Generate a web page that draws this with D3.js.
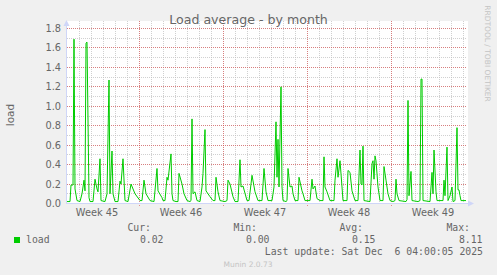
<!DOCTYPE html>
<html>
<head>
<meta charset="utf-8">
<script src="https://cdn.jsdelivr.net/npm/d3@7"></script>
<style>
  html, body { margin: 0; padding: 0; background: #f0f0f0; }
  svg { display: block; font-family: "DejaVu Sans", sans-serif; }
  .mono { font-family: "DejaVu Sans Mono", monospace; }
</style>
</head>
<body>
<div id="chart"></div>
<script>
// load samples: hours after Mon 3 Nov 2025 00:00 UTC, and the load value
var hours = [0, 6, 8, 12, 14, 16, 20, 26, 30, 34, 36, 38, 40, 44, 46, 52, 56, 60, 62, 66,
  68, 76, 80, 84, 86, 90, 92, 96, 102, 106, 108, 112, 116, 122, 128, 136, 146, 150, 154, 158,
  166, 174, 180, 182, 190, 192, 196, 200, 202, 208, 210, 212, 218, 222, 224, 230, 234, 240, 246, 248,
  250, 252, 256, 260, 266, 270, 272, 276, 278, 286, 292, 296, 298, 302, 306, 316, 320, 322, 326, 332,
  336, 342, 346, 348, 352, 360, 364, 368, 370, 376, 382, 390, 394, 398, 402, 410, 414, 418, 420, 422,
  424, 428, 430, 432, 438, 440, 442, 446, 450, 452, 456, 462, 464, 470, 472, 476, 486, 490, 492, 496,
  500, 506, 512, 514, 516, 520, 526, 534, 536, 540, 542, 546, 550, 552, 560, 562, 566, 570, 576, 582,
  586, 588, 590, 592, 594, 606, 610, 612, 614, 616, 618, 622, 626, 632, 634, 638, 642, 646, 652, 656,
  658, 660, 664, 678, 680, 682, 684, 688, 690, 702, 706, 708, 710, 712, 726, 730, 732, 734, 738, 740,
  752, 754, 756, 760, 762, 766, 770, 772, 776, 780, 782, 784, 786, 788, 798];
var load = [0.02, 0.02, 0.19, 0.19, 1.69, 0.15, 0.03, 0.02, 0.10, 0.24, 0.13, 1.65, 1.66, 0.06, 0.02, 0.02, 0.25, 0.15, 0.12, 0.46,
  0.03, 0.02, 0.10, 1.27, 0.10, 0.54, 0.10, 0.02, 0.02, 0.23, 0.20, 0.46, 0.03, 0.02, 0.20, 0.10, 0.03, 0.03, 0.24, 0.10,
  0.03, 0.02, 0.36, 0.13, 0.06, 0.03, 0.03, 0.27, 0.24, 0.51, 0.10, 0.03, 0.02, 0.02, 0.31, 0.20, 0.10, 0.03, 0.02, 0.03,
  0.87, 0.10, 0.12, 0.03, 0.02, 0.17, 0.31, 0.76, 0.13, 0.07, 0.03, 0.03, 0.27, 0.12, 0.03, 0.02, 0.03, 0.24, 0.20, 0.07,
  0.02, 0.02, 0.45, 0.17, 0.18, 0.03, 0.03, 0.20, 0.29, 0.12, 0.03, 0.03, 0.36, 0.12, 0.03, 0.03, 0.17, 0.84, 0.27, 0.66,
  0.17, 1.20, 0.17, 0.03, 0.02, 0.03, 0.36, 0.17, 0.18, 0.10, 0.03, 0.03, 0.27, 0.13, 0.10, 0.03, 0.03, 0.25, 0.15, 0.18,
  0.05, 0.03, 0.03, 0.48, 0.17, 0.12, 0.03, 0.03, 0.24, 0.46, 0.27, 0.44, 0.17, 0.03, 0.03, 0.34, 0.32, 0.13, 0.03, 0.03,
  0.55, 0.20, 0.19, 0.59, 0.03, 0.02, 0.41, 0.44, 0.25, 0.49, 0.44, 0.17, 0.03, 0.03, 0.38, 0.24, 0.10, 0.03, 0.02, 0.03,
  0.25, 0.10, 0.03, 0.02, 0.04, 1.06, 0.08, 0.33, 0.03, 0.02, 0.03, 1.28, 1.28, 0.03, 0.02, 0.32, 0.10, 0.55, 0.12, 0.03,
  0.03, 0.24, 0.08, 0.58, 0.03, 0.08, 0.17, 0.02, 0.03, 0.78, 0.14, 0.14, 0.08, 0.03, 0.03];

var yTicks = [0.0, 0.2, 0.4, 0.6, 0.8, 1.0, 1.2, 1.4, 1.6, 1.8];
var weekLabels = ["Week 45", "Week 46", "Week 47", "Week 48", "Week 49"];
var legendHeads = ["Cur:", "Min:", "Avg:", "Max:"];
var legendValues = ["0.02", "0.00", "0.15", "8.11"];

var startTime = new Date(Date.UTC(2025, 10, 3, 0));
var endTime = new Date(Date.UTC(2025, 11, 6, 8));

var svgWidth = 497;
var svgHeight = 275;

var svg = d3.select("#chart")
  .append("svg")
  .attr("width", svgWidth)
  .attr("height", svgHeight);

svg.append("rect")
  .attr("width", svgWidth)
  .attr("height", svgHeight)
  .attr("fill", "#f0f0f0");

var x = d3.scaleUtc().domain([startTime, endTime]).range([67, 467]);
var y = d3.scaleLinear().domain([0, 1.872]).range([203, 21]);

// white canvas
svg.append("rect")
  .attr("x", 66).attr("y", 21)
  .attr("width", 402).attr("height", 182)
  .attr("fill", "#ffffff");

var px = v => Math.round(v) + 0.5;

// minor grid
var grid = svg.append("g").attr("stroke-dasharray", "1,1").attr("stroke-width", 1);
grid.selectAll(".hmin")
  .data(y.ticks(18).filter(d => d > 0))
  .enter().append("line")
  .attr("x1", 67).attr("x2", 467)
  .attr("y1", d => px(y(d))).attr("y2", d => px(y(d)))
  .attr("stroke", "rgba(192,192,192,0.75)");
grid.selectAll(".vmin")
  .data(d3.utcDay.range(startTime, endTime).slice(1))
  .enter().append("line")
  .attr("x1", d => px(x(d))).attr("x2", d => px(x(d)))
  .attr("y1", 21).attr("y2", 203)
  .attr("stroke", "rgba(192,192,192,0.75)");

// major grid
grid.selectAll(".hmaj")
  .data(yTicks.filter(d => d > 0))
  .enter().append("line")
  .attr("x1", 67).attr("x2", 467)
  .attr("y1", d => px(y(d))).attr("y2", d => px(y(d)))
  .attr("stroke", "rgba(220,60,60,0.55)");
grid.selectAll(".vmaj")
  .data(d3.utcSunday.range(startTime, endTime))
  .enter().append("line")
  .attr("x1", d => px(x(d))).attr("x2", d => px(x(d)))
  .attr("y1", 21).attr("y2", 206)
  .attr("stroke", "rgba(220,60,60,0.55)");

// the load line
var series = hours.map((h, i) => ({ t: d3.utcHour.offset(startTime, h), v: load[i] }));
svg.append("path")
  .datum(series)
  .attr("fill", "none")
  .attr("stroke", "#00cc00")
  .attr("stroke-width", 1)
  .attr("d", d3.line().x(d => x(d.t)).y(d => y(d.v) + 0.5));

// axes (munin lavender)
var axisCol = "#cfd6f8";
svg.append("line")
  .attr("x1", 66.5).attr("x2", 66.5).attr("y1", 203).attr("y2", 24)
  .attr("stroke", axisCol);
svg.append("line")
  .attr("x1", 66).attr("x2", 470).attr("y1", 203.5).attr("y2", 203.5)
  .attr("stroke", axisCol);
svg.append("path")
  .attr("d", "M63.5,26 L66.5,20 L69.5,26 Z")
  .attr("fill", axisCol);
svg.append("path")
  .attr("d", "M468,200.5 L474,203.5 L468,206.5 Z")
  .attr("fill", axisCol);

// y tick labels
svg.selectAll(".ylab")
  .data(yTicks)
  .enter().append("text")
  .attr("x", 61)
  .attr("y", d => px(y(d)) + 3.5)
  .attr("text-anchor", "end")
  .attr("font-size", "9.8px")
  .attr("fill", "#666")
  .text(d => d.toFixed(1));

// week labels, centred in each week
var weekMids = d3.utcSunday.range(d3.utcSunday.floor(startTime), endTime)
  .map(d => d3.utcHour.offset(d, 84));
svg.selectAll(".xlab")
  .data(weekLabels)
  .enter().append("text")
  .attr("x", (d, i) => x(weekMids[i]))
  .attr("y", 216)
  .attr("text-anchor", "middle")
  .attr("font-size", "9.8px")
  .attr("fill", "#666")
  .text(d => d);

// title and unit
svg.append("text")
  .attr("x", 248.5).attr("y", 24)
  .attr("text-anchor", "middle")
  .attr("font-size", "12.6px")
  .attr("fill", "#666")
  .text("Load average - by month");

svg.append("text")
  .attr("transform", "translate(14,115) rotate(-90)")
  .attr("text-anchor", "middle")
  .attr("font-size", "10.5px")
  .attr("fill", "#666")
  .text("load");

svg.append("text")
  .attr("transform", "translate(485,53.5) rotate(90)")
  .attr("text-anchor", "middle")
  .attr("font-size", "7.5px")
  .attr("fill", "#c4c4c4")
  .text("RRDTOOL / TOBI OETIKER");

// legend
svg.append("rect")
  .attr("x", 14).attr("y", 237)
  .attr("width", 6).attr("height", 6)
  .attr("fill", "#00cc00");

var legend = svg.append("g").attr("class", "mono")
  .attr("font-size", "9.8px").attr("fill", "#666");
legend.append("text").attr("x", 26).attr("y", 243).text("load");

var headEnds = [151, 257, 363, 470];
legend.selectAll(".lh")
  .data(legendHeads)
  .enter().append("text")
  .attr("x", (d, i) => headEnds[i])
  .attr("y", 231)
  .attr("text-anchor", "end")
  .text(d => d);
legend.selectAll(".lv")
  .data(legendValues)
  .enter().append("text")
  .attr("x", (d, i) => headEnds[i] + 12.5)
  .attr("y", 243)
  .attr("text-anchor", "end")
  .text(d => d);
legend.append("text")
  .attr("x", 483).attr("y", 255)
  .attr("text-anchor", "end")
  .attr("xml:space", "preserve")
  .style("white-space", "pre")
  .text("Last update: Sat Dec  6 04:00:05 2025");

svg.append("text")
  .attr("x", 248).attr("y", 266.5)
  .attr("text-anchor", "middle")
  .attr("font-size", "7.5px")
  .attr("fill", "#c4c4c4")
  .text("Munin 2.0.73");
</script>
</body>
</html>
